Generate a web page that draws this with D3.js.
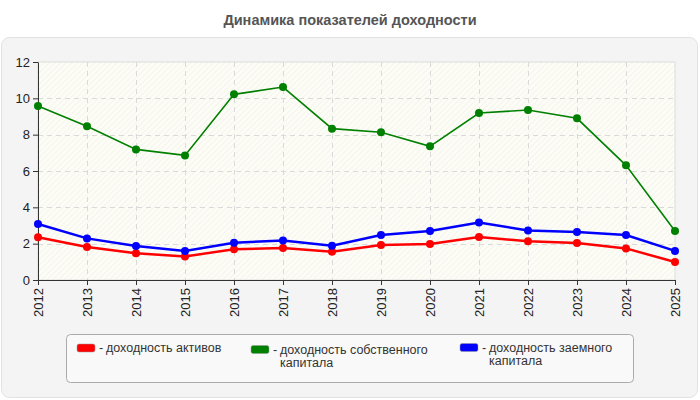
<!DOCTYPE html>
<html>
<head>
<meta charset="utf-8">
<script src="https://cdn.jsdelivr.net/npm/d3@7"></script>
<style>
  body { margin: 0; background: #fff; }
  svg { display: block; font-family: "Liberation Sans", Arial, sans-serif; }
</style>
</head>
<body>
<div class="chart"></div>
<script>
// Data
var years = ["2012","2013","2014","2015","2016","2017","2018","2019","2020","2021","2022","2023","2024","2025"];
var assetsReturn = [2.35, 1.82, 1.47, 1.30, 1.69, 1.76, 1.56, 1.93, 1.98, 2.37, 2.13, 2.04, 1.74, 0.99];
var equityReturn = [9.58, 8.46, 7.19, 6.86, 10.22, 10.62, 8.33, 8.13, 7.36, 9.19, 9.36, 8.90, 6.31, 2.70];
var debtReturn   = [3.08, 2.29, 1.87, 1.60, 2.05, 2.17, 1.89, 2.48, 2.70, 3.17, 2.73, 2.64, 2.48, 1.60];
var yTicks = [0, 2, 4, 6, 8, 10, 12];
var legendLabels = [["доходность активов"], ["доходность собственного", "капитала"], ["доходность заемного", "капитала"]];

var svgWidth = 700, svgHeight = 400;
var margin = { top: 62, right: 25, bottom: 120, left: 38 };
var width = 675 - margin.left;
var height = 280 - margin.top;

var svg = d3.select(".chart").append("svg")
  .attr("width", svgWidth)
  .attr("height", svgHeight);

// outer panel
svg.append("rect")
  .attr("x", 1.5).attr("y", 37.5)
  .attr("width", 696).attr("height", 360)
  .attr("rx", 8)
  .attr("fill", "#f4f4f4")
  .attr("stroke", "#e2e2e2");

svg.append("text")
  .attr("x", 350).attr("y", 25)
  .attr("text-anchor", "middle")
  .attr("font-size", 14.5)
  .attr("font-weight", "bold")
  .attr("fill", "#555")
  .text("Динамика показателей доходности");

// hatch pattern
var defs = svg.append("defs");
var pat = defs.append("pattern")
  .attr("id", "hatch")
  .attr("patternUnits", "userSpaceOnUse")
  .attr("width", 4).attr("height", 4)
  .attr("patternTransform", "rotate(45)");
pat.append("rect").attr("width", 4).attr("height", 4).attr("fill", "#fdfdf6");
pat.append("line").attr("x1", 0).attr("y1", 0).attr("x2", 0).attr("y2", 4)
  .attr("stroke", "#efefec").attr("stroke-width", 1.2);

var chartGroup = svg.append("g")
  .attr("transform", `translate(${margin.left}, ${margin.top})`);

var x = d3.scalePoint().domain(years).range([0, width]);
var y = d3.scaleLinear().domain([0, 12]).range([height, 0]);

chartGroup.append("rect")
  .attr("width", width).attr("height", height)
  .attr("fill", "url(#hatch)")
  .attr("stroke", "#dcdcdc");

// grid
chartGroup.selectAll(".hgrid")
  .data(yTicks.filter(d => d > 0 && d < 12))
  .enter().append("line")
  .attr("x1", 0).attr("x2", width)
  .attr("y1", d => Math.round(y(d)) + 0.5).attr("y2", d => Math.round(y(d)) + 0.5)
  .attr("stroke", "#dadada")
  .attr("stroke-dasharray", "5,4");

chartGroup.selectAll(".vgrid")
  .data(years.slice(1, -1))
  .enter().append("line")
  .attr("x1", d => Math.round(x(d)) + 0.5).attr("x2", d => Math.round(x(d)) + 0.5)
  .attr("y1", 0).attr("y2", height)
  .attr("stroke", "#dadada")
  .attr("stroke-dasharray", "5,4");

// axes
var bottomAxis = d3.axisBottom(x).tickSizeInner(5).tickSizeOuter(0);
var leftAxis = d3.axisLeft(y).tickValues(yTicks).tickSizeInner(5).tickSizeOuter(0);

var xAxisG = chartGroup.append("g")
  .attr("transform", `translate(0, ${height})`)
  .call(bottomAxis);
xAxisG.selectAll("text")
  .attr("transform", "rotate(-90)")
  .attr("text-anchor", "end")
  .attr("x", -8).attr("y", 0).attr("dy", "0.35em")
  .attr("font-size", 13)
  .attr("fill", "#222");

var yAxisG = chartGroup.append("g").call(leftAxis);
yAxisG.selectAll("text").attr("font-size", 13).attr("fill", "#222").attr("x", -8);

svg.selectAll(".domain, .tick line").attr("stroke", "#333");

// series
var series = [
  { values: assetsReturn, color: "#ff0000", w: 2.5 },
  { values: equityReturn, color: "#008000", w: 1.6 },
  { values: debtReturn, color: "#0000ff", w: 2.5 }
];

var line = d3.line()
  .x((d, i) => x(years[i]))
  .y(d => y(d));

series.forEach(function (s) {
  chartGroup.append("path")
    .datum(s.values)
    .attr("fill", "none")
    .attr("stroke", s.color)
    .attr("stroke-width", s.w)
    .attr("d", line);
  chartGroup.selectAll(null)
    .data(s.values)
    .enter().append("circle")
    .attr("cx", (d, i) => x(years[i]))
    .attr("cy", d => y(d))
    .attr("r", 4)
    .attr("fill", s.color);
});

// legend
svg.append("rect")
  .attr("x", 66.5).attr("y", 334.5)
  .attr("width", 567).attr("height", 48)
  .attr("rx", 4)
  .attr("fill", "#f9f9f9")
  .attr("stroke", "#aaa");

var legendPos = [{ x: 77, y: 344 }, { x: 251, y: 345.5 }, { x: 460, y: 343.5 }];
legendLabels.forEach(function (lines, i) {
  var p = legendPos[i];
  svg.append("rect")
    .attr("x", p.x).attr("y", p.y)
    .attr("width", 18).attr("height", 8)
    .attr("rx", 2)
    .attr("fill", series[i].color)
    .attr("stroke", "#999").attr("stroke-width", 0.5);
  svg.append("text")
    .attr("x", p.x + 22).attr("y", p.y + 8)
    .attr("font-size", 12.5)
    .attr("fill", "#333")
    .text("-");
  lines.forEach(function (l, j) {
    svg.append("text")
      .attr("x", p.x + 29)
      .attr("y", p.y + 8 + j * 13)
      .attr("font-size", 12.5)
      .attr("fill", "#333")
      .text(l);
  });
});
</script>
</body>
</html>
